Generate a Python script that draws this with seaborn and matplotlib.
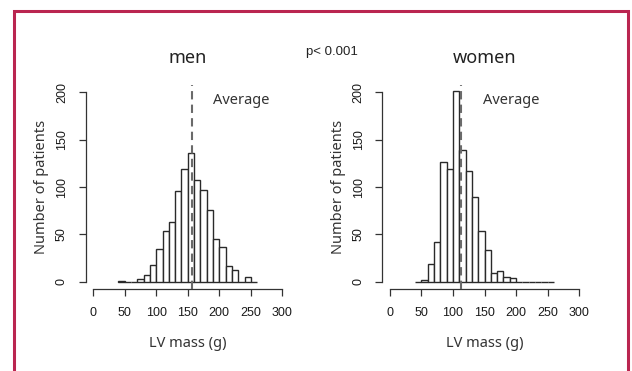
import numpy as np
import pandas as pd
import matplotlib
matplotlib.use("Agg")
import matplotlib.pyplot as plt
from matplotlib.patches import Rectangle
import seaborn as sns

# ---- data ----
bin_edges = list(range(40, 270, 10))          # 40..260, width 10
men_counts = [1, 0, 0, 3, 7, 18, 35, 54, 63, 96, 119, 136, 107, 97, 76, 45, 37, 17, 12, 0, 5, 0]
women_counts = [0, 2, 19, 42, 126, 119, 201, 139, 117, 89, 54, 33, 9, 11, 5, 4, 0, 0, 0, 0, 0, 0]
men_mean = 156
women_mean = 112
titles = ["men", "women"]
x_ticks = [0, 50, 100, 150, 200, 250, 300]
y_ticks = [0, 50, 100, 150, 200]
p_text = "p< 0.001"

sns.set_theme(style="white")
title_font = ["Noto Sans", "DejaVu Sans"]
tick_font = ["Liberation Sans", "DejaVu Sans"]

fig = plt.figure(figsize=(6.32, 3.71), dpi=100)
fig.patch.set_facecolor("white")

# red frame
fig.patches.append(Rectangle((13.5 / 632, -0.05), (627.5 - 13.5) / 632, 1.05 - 11 / 371,
                             transform=fig.transFigure, fill=False,
                             edgecolor="#BA2550", linewidth=2.2))

ax_w = 204.2 / 632
ax_h = (289.3 - 84.7) / 371
ax_b = 1 - 289.3 / 371
lefts = [85.7 / 632, 382.4 / 632]

centers = [e + 5 for e in bin_edges[:-1]]
spine_col = "#333333"
for i, (counts, mean, title) in enumerate(zip([men_counts, women_counts],
                                              [men_mean, women_mean], titles)):
    ax = fig.add_axes([lefts[i], ax_b, ax_w, ax_h])
    df = pd.DataFrame({"x": centers, "w": counts})
    sns.histplot(data=df, x="x", weights="w", bins=bin_edges, ax=ax,
                 color="white", edgecolor="#2a2a2a", linewidth=1.0, alpha=1)
    ax.axvline(mean, color="#6a6a6a", linestyle=(0, (4, 2.5)), linewidth=1.5, zorder=5)
    ax.set_xlim(-12, 312)
    ax.set_ylim(-8, 208)
    ax.set_facecolor("white")
    for s in ["top", "right"]:
        ax.spines[s].set_visible(False)
    for s in ["left", "bottom"]:
        ax.spines[s].set_color(spine_col)
        ax.spines[s].set_linewidth(0.9)
    ax.spines["left"].set_bounds(0, 200)
    ax.spines["bottom"].set_bounds(0, 300)
    ax.set_xticks(x_ticks)
    ax.set_yticks(y_ticks)
    ax.set_xticklabels([str(t) for t in x_ticks], family=tick_font, fontsize=9, color="#1a1a1a")
    ax.set_yticklabels([str(t) for t in y_ticks], family=tick_font, fontsize=9, color="#1a1a1a",
                       rotation=90, va="center")
    ax.tick_params(axis="both", direction="out", length=5.3, width=0.9, color=spine_col,
                   bottom=True, left=True, pad=7.5)
    ax.set_xlabel("LV mass (g)", family=title_font, fontsize=10.5, color="#333333", labelpad=12)
    ax.set_ylabel("Number of patients", family=title_font, fontsize=10.5, color="#333333", labelpad=5)
    ax.set_title(title, family=title_font, fontsize=13, color="#222222", pad=15.5)
    ax.text(0.76 if i == 0 else 0.63, 0.925, "Average", transform=ax.transAxes,
            family=title_font, fontsize=10.5, color="#333333", ha="center", va="center")

fig.text(332 / 632, 1 - 52 / 371, p_text, family=tick_font, fontsize=9.5,
         color="#222222", ha="center", va="center")

fig.savefig("out.png", dpi=100)
